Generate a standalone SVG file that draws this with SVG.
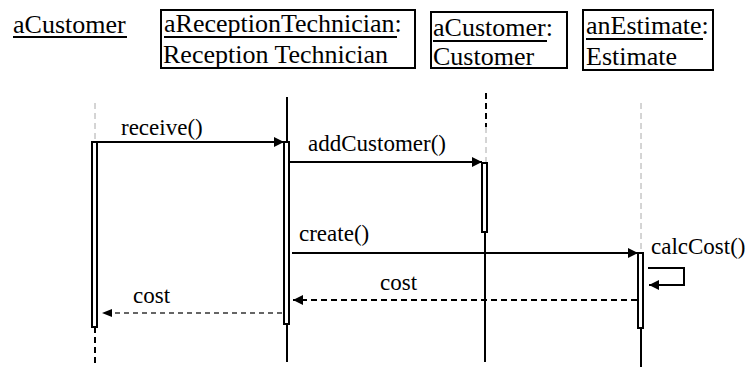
<svg xmlns="http://www.w3.org/2000/svg" width="752" height="367" viewBox="0 0 752 367" font-family="'Liberation Serif', 'Times New Roman', Times, serif">
<defs>
<style>
text{fill:#000}
.hd{font-size:26px}
.msg{font-size:23px}
.box{fill:#fff;stroke:#000;stroke-width:2}
.ul{stroke:#000;stroke-width:2}
.act{fill:#fff;stroke:#000;stroke-width:2}
.solid{stroke:#000;stroke-width:2;fill:none}
.gdash{stroke:#aaa;stroke-width:1;stroke-dasharray:6,4;fill:none}
.bdash{stroke:#000;stroke-width:2;stroke-dasharray:6,4;fill:none}
.call{stroke:#000;stroke-width:2;fill:none}
.ret{stroke:#000;stroke-width:2;stroke-dasharray:6,4;fill:none}
.ret2{stroke:#333;stroke-width:1.5;stroke-dasharray:5,4;fill:none}
</style>
<marker id="ah" viewBox="0 0 10 10" refX="10" refY="5" markerWidth="10" markerHeight="10" markerUnits="userSpaceOnUse" orient="auto">
<path d="M0,0 L10,5 L0,10 Z" fill="#000"/>
</marker>
<marker id="ah2" viewBox="0 0 10 8" refX="10" refY="4" markerWidth="10" markerHeight="8" markerUnits="userSpaceOnUse" orient="auto">
<path d="M0,0 L10,4 L0,8 Z" fill="#000"/>
</marker>
</defs>
<rect width="752" height="367" fill="#fff"/>

<g id="node-aCustomer-actor">
<text class="hd" x="13" y="33">aCustomer</text>
<line class="ul" x1="13" y1="37" x2="127" y2="37"/>
</g>

<g id="node-aReceptionTechnician">
<rect class="box" x="161" y="10" width="254" height="58"/>
<text class="hd" x="164" y="32">aReceptionTechnician:</text>
<line class="ul" x1="164" y1="37" x2="397" y2="37"/>
<text class="hd" x="163" y="63">Reception Technician</text>
</g>

<g id="node-aCustomer-obj">
<rect class="box" x="431" y="12" width="136" height="56"/>
<text class="hd" x="433" y="36">aCustomer:</text>
<line class="ul" x1="433" y1="41" x2="547" y2="41"/>
<text class="hd" x="433" y="65">Customer</text>
</g>

<g id="node-anEstimate">
<rect class="box" x="583" y="10" width="130" height="60"/>
<text class="hd" x="586" y="34">anEstimate:</text>
<line class="ul" x1="586" y1="39" x2="703" y2="39"/>
<text class="hd" x="586" y="65">Estimate</text>
</g>

<g id="lifelines">
<line class="gdash" x1="95" y1="103" x2="95" y2="142"/>
<line class="bdash" x1="95" y1="327" x2="95" y2="367"/>
<line class="solid" x1="287" y1="97" x2="287" y2="142"/>
<line class="solid" x1="287" y1="324" x2="287" y2="362"/>
<line class="bdash" x1="486" y1="93" x2="486" y2="127"/>
<line class="gdash" x1="486" y1="127" x2="486" y2="163"/>
<line class="solid" x1="485" y1="232" x2="485" y2="362"/>
<line class="gdash" x1="641" y1="103" x2="641" y2="253"/>
<line class="solid" x1="641" y1="328" x2="641" y2="367"/>
</g>

<g id="activations">
<rect class="act" x="92" y="142" width="5" height="185"/>
<rect class="act" x="284" y="142" width="5" height="182"/>
<rect class="act" x="482" y="163" width="5" height="69"/>
<rect class="act" x="638" y="253" width="5" height="75"/>
</g>

<g id="connectors">
<line class="call" x1="97" y1="142" x2="284" y2="142" marker-end="url(#ah)"/>
<line class="call" x1="289" y1="162" x2="482" y2="162" marker-end="url(#ah)"/>
<line class="call" x1="292" y1="253" x2="638" y2="253" marker-end="url(#ah)"/>
<polyline class="call" points="648,268 684,268 684,285 649,285" marker-end="url(#ah)"/>
<line class="ret" x1="637" y1="300" x2="293" y2="300" marker-end="url(#ah)"/>
<line class="ret2" x1="282" y1="313" x2="102" y2="313" marker-end="url(#ah2)"/>
</g>

<g id="labels">
<text class="msg" x="121" y="135">receive()</text>
<text class="msg" x="308" y="151">addCustomer()</text>
<text class="msg" x="299" y="241">create()</text>
<text class="msg" x="651" y="254">calcCost()</text>
<text class="msg" x="380" y="290">cost</text>
<text class="msg" x="133" y="303">cost</text>
</g>
</svg>
